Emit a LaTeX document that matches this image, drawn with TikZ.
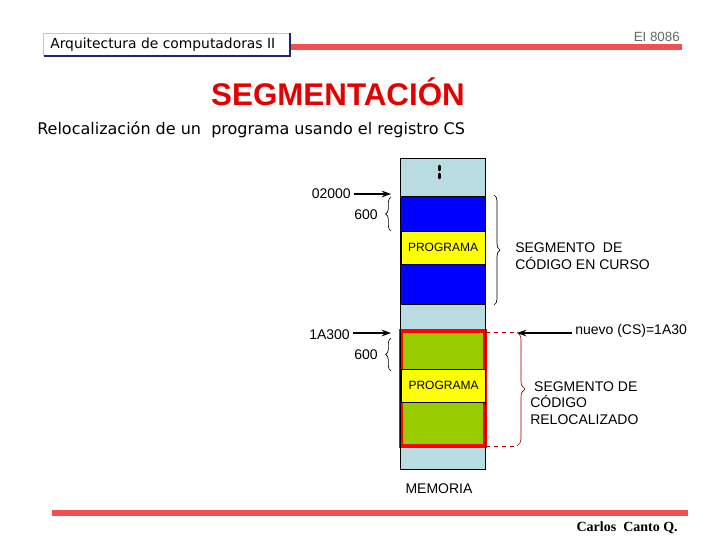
\documentclass[tikz,border=0pt]{standalone}
\usepackage{fontspec}
\setmainfont{Liberation Sans}
\newfontfamily\verdanafont{DejaVu Sans}
\newfontfamily\signfont{Liberation Serif}
\usepackage{tikz}
\usetikzlibrary{arrows.meta,decorations.pathreplacing}
\definecolor{barred}{RGB}{240,80,80}
\definecolor{memblue}{RGB}{184,220,226}
\definecolor{segblue}{RGB}{0,0,255}
\definecolor{seggreen}{RGB}{153,204,0}
\definecolor{progyellow}{RGB}{255,255,0}
\definecolor{navy}{RGB}{30,40,110}
\definecolor{framegray}{RGB}{185,200,215}
\tikzset{
  BaseNode/.style = {align=center, inner sep=0pt, text centered},
  LabelNode/.style = {BaseNode, font=\fontsize{10.5}{12.5}\selectfont},
  SmallLabel/.style = {BaseNode, align=left, font=\fontsize{10.5}{12.6}\selectfont},
  ProgNode/.style = {BaseNode, rectangle, draw=black, fill=progyellow, font=\fontsize{9}{10}\selectfont,
                     minimum width=63pt, minimum height=25pt},
  PtrArrow/.style = {-{Stealth[length=7pt,width=5pt]}, line width=1.4pt, shorten <=2pt},
  BraceLine/.style = {decorate, decoration={brace, amplitude=#1}, line width=0.5pt},
  BraceLine/.default = 5pt,
}

\begin{document}
\begin{tikzpicture}[x=0.75pt, y=-0.75pt]
    \useasboundingbox (0,0) rectangle (720,540);
    % header
    \fill[barred] (290,44) rectangle (682,50);
    \fill[barred] (52,510) rectangle (688,516);
    \draw[framegray, fill=white] (43,33) rectangle (289,55);
    \draw[navy, line width=1.5pt] (44,56) -- (290,56) -- (290,33);
    \node[BaseNode, anchor=west, font=\verdanafont\fontsize{10.4}{12}\selectfont] (course) at (50,44.5) {Arquitectura de computadoras II};
    \node[BaseNode, anchor=east, text=gray!80!black, font=\fontsize{10}{12}\selectfont] (chip) at (680,37) {EI 8086};
    \node[BaseNode, text=red!90!black, font=\bfseries\fontsize{23.5}{28}\selectfont] (title) at (338,92) {SEGMENTACIÓN};
    \node[BaseNode, anchor=west, font=\verdanafont\fontsize{12}{14}\selectfont] (subtitle) at (37,130) {Relocalización de un\ \ programa usando el registro CS};

    % memory column
    \filldraw[fill=memblue, draw=black] (400,158) rectangle (485,469);
    \fill[segblue] (400,196) rectangle (485,304);
    \draw (400,196) -- (485,196);
    \draw (400,304) -- (485,304);
    \fill[seggreen] (400,331) rectangle (486,446);
    \draw[red, line width=2.6pt] (401,331) rectangle (485,446);
    \draw (400,158) rectangle (485,469);
    \draw[line width=2.2pt, line cap=round] (439.5,166) -- (439.5,170) (439.5,174) -- (439.5,178);
    \node[ProgNode] (progold) at (443,247.5) {PROGRAMA};
    \node[ProgNode] (prognew) at (443.5,385.5) {PROGRAMA};
    \node[LabelNode] (memory) at (439,489) {MEMORIA};

    % current code segment
    \node[LabelNode, anchor=east] (addrold) at (351,194) {02000};
    \coordinate (segold) at (391,194);
    \draw[PtrArrow] (addrold) -- (segold);
    \node[LabelNode, anchor=east] (sizeold) at (378,215) {600};
    \draw[BraceLine=4pt] (391,231) -- (391,197);
    \draw[BraceLine=4.5pt] (494,195) -- (494,305);
    \node[SmallLabel, anchor=west] (segcur) at (515,256) {SEGMENTO\ \ DE\\CÓDIGO EN CURSO};

    % relocated code segment
    \node[LabelNode, anchor=east] (addrnew) at (350,335) {1A300};
    \coordinate (segnew) at (391,333);
    \draw[PtrArrow] (addrnew.east |- segnew) -- (segnew);
    \node[LabelNode, anchor=east] (sizenew) at (378,355) {600};
    \draw[BraceLine=4pt] (391,371) -- (391,338);
    \node[LabelNode, anchor=west] (newcs) at (575,331) {nuevo (CS)=1A30};
    \coordinate (csin) at (517,333);
    \draw[PtrArrow] (newcs.west |- csin) -- (csin);
    \coordinate (relotop) at (517,332);
    \coordinate (relobot) at (517,446);
    \draw[red!75!black, dashed] (486,332) -- (relotop);
    \draw[red!75!black, dashed] (486,446) -- (relobot);
    \draw[BraceLine=6pt, red!60!black] (relotop) -- (relobot);
    \node[SmallLabel, anchor=west] (segrel) at (530,403) {\ SEGMENTO DE\\CÓDIGO\\RELOCALIZADO};

    \node[BaseNode, anchor=east, font=\signfont\bfseries\fontsize{10.5}{12}\selectfont] (author) at (678,528) {Carlos\ \ Canto Q.};
\end{tikzpicture}
\end{document}
